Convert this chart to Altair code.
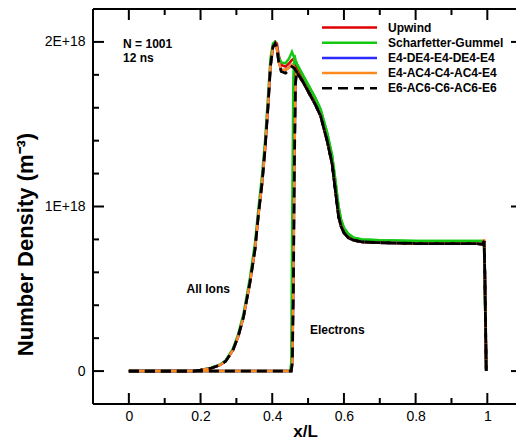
import altair as alt
import pandas as pd

FONT = "Liberation Sans"
W, H = 423, 395

# Discretisation schemes, drawn in this order (last on top)
schemes = ["Upwind", "Scharfetter-Gummel", "E4-DE4-E4-DE4-E4",
           "E4-AC4-C4-AC4-E4", "E6-AC6-C6-AC6-E6"]
colors = ["#e00000", "#14c814", "#2b2bff", "#ff8a1e", "#000000"]
dashes = [None, None, None, None, [10, 6]]
widths = [2.5, 2.5, 2.5, 2.5, 2.8]

# Number densities in units of 1E+18 m^-3, at t = 12 ns
ions_x = [0.0, 0.10, 0.18, 0.20, 0.23, 0.255, 0.27, 0.29, 0.305, 0.32, 0.338,
          0.352, 0.361, 0.372, 0.38, 0.388, 0.395, 0.402, 0.408, 0.413, 0.418,
          0.425, 0.437, 0.447, 0.455, 0.462, 0.47, 0.485, 0.50, 0.52, 0.535,
          0.553, 0.567, 0.576, 0.585, 0.592, 0.60, 0.612, 0.627, 0.65, 0.70,
          0.80, 0.90, 0.97, 0.987, 0.991, 0.993, 0.997]
ions_upwind = [0, 0, 0, 0.006, 0.018, 0.037, 0.06, 0.125, 0.21, 0.33, 0.54,
               0.74, 0.94, 1.15, 1.35, 1.60, 1.85, 1.97, 2.00, 1.99, 1.92,
               1.86, 1.85, 1.87, 1.89, 1.90, 1.84, 1.77, 1.71, 1.63, 1.56,
               1.41, 1.27, 1.11, 0.95, 0.89, 0.85, 0.815, 0.80, 0.79, 0.785,
               0.78, 0.78, 0.78, 0.775, 0.795, 0.6, 0.0]
ions_sg = [0, 0, 0, 0.007, 0.02, 0.04, 0.065, 0.135, 0.225, 0.35, 0.57,
           0.78, 0.98, 1.20, 1.40, 1.66, 1.90, 1.99, 2.00, 1.96, 1.91,
           1.875, 1.87, 1.90, 1.94, 1.90, 1.86, 1.80, 1.74, 1.66, 1.59,
           1.45, 1.31, 1.16, 1.00, 0.92, 0.87, 0.835, 0.81, 0.80, 0.795,
           0.79, 0.79, 0.79, 0.79, 0.76, 0.5, 0.0]
ions_e4de4 = [0, 0, 0, 0.006, 0.018, 0.037, 0.06, 0.125, 0.21, 0.33, 0.54,
              0.74, 0.94, 1.15, 1.35, 1.60, 1.85, 1.97, 1.99, 1.96, 1.88,
              1.83, 1.83, 1.845, 1.86, 1.845, 1.81, 1.76, 1.70, 1.62, 1.55,
              1.40, 1.26, 1.10, 0.94, 0.88, 0.84, 0.81, 0.795, 0.785, 0.78,
              0.775, 0.775, 0.775, 0.77, 0.79, 0.6, 0.0]
ions_e4ac4 = [0, 0, 0, 0.006, 0.018, 0.037, 0.06, 0.125, 0.21, 0.33, 0.54,
              0.74, 0.94, 1.15, 1.35, 1.60, 1.85, 1.97, 1.99, 1.96, 1.88,
              1.83, 1.83, 1.845, 1.86, 1.845, 1.81, 1.76, 1.70, 1.62, 1.55,
              1.40, 1.26, 1.10, 0.94, 0.88, 0.84, 0.81, 0.795, 0.785, 0.78,
              0.775, 0.775, 0.775, 0.77, 0.80, 0.6, 0.0]
ions_e6 = [0, 0, 0, 0.006, 0.018, 0.037, 0.06, 0.125, 0.21, 0.33, 0.54,
           0.74, 0.94, 1.15, 1.35, 1.60, 1.85, 1.97, 1.99, 1.96, 1.88,
           1.82, 1.81, 1.83, 1.85, 1.84, 1.81, 1.76, 1.70, 1.62, 1.55,
           1.40, 1.26, 1.10, 0.94, 0.88, 0.84, 0.81, 0.795, 0.785, 0.78,
           0.775, 0.775, 0.775, 0.77, 0.79, 0.6, 0.0]

electrons_x = [0.0, 0.10, 0.20, 0.30, 0.40, 0.45, 0.453, 0.456, 0.459, 0.462,
               0.465, 0.468, 0.47, 0.485, 0.50, 0.52, 0.535, 0.553, 0.567,
               0.576, 0.585, 0.592, 0.60, 0.612, 0.627, 0.65, 0.70, 0.80,
               0.90, 0.97, 0.987, 0.991, 0.993, 0.997]
electrons_upwind = [0, 0, 0, 0, 0, 0, 0, 0.1, 0.8, 1.6, 1.88, 1.87, 1.84,
                    1.77, 1.71, 1.63, 1.56, 1.41, 1.27, 1.11, 0.95, 0.89,
                    0.85, 0.815, 0.80, 0.79, 0.785, 0.78, 0.78, 0.78, 0.775,
                    0.795, 0.6, 0.0]
electrons_sg = [0, 0, 0, 0, 0, 0, 0.05, 1.0, 1.8, 1.92, 1.89, 1.87, 1.86,
                1.80, 1.74, 1.66, 1.59, 1.45, 1.31, 1.16, 1.00, 0.92,
                0.87, 0.835, 0.81, 0.80, 0.795, 0.79, 0.79, 0.79, 0.79,
                0.76, 0.5, 0.0]
electrons_e4de4 = [0, 0, 0, 0, 0, 0, 0, 0.05, 0.5, 1.3, 1.75, 1.82, 1.81,
                   1.76, 1.70, 1.62, 1.55, 1.40, 1.26, 1.10, 0.94, 0.88,
                   0.84, 0.81, 0.795, 0.785, 0.78, 0.775, 0.775, 0.775, 0.77,
                   0.79, 0.6, 0.0]
electrons_e4ac4 = [0, 0, 0, 0, 0, 0, 0, 0.05, 0.5, 1.3, 1.75, 1.82, 1.81,
                   1.76, 1.70, 1.62, 1.55, 1.40, 1.26, 1.10, 0.94, 0.88,
                   0.84, 0.81, 0.795, 0.785, 0.78, 0.775, 0.775, 0.775, 0.77,
                   0.80, 0.6, 0.0]
electrons_e6 = [0, 0, 0, 0, 0, 0, 0, 0.05, 0.5, 1.3, 1.75, 1.82, 1.81,
                1.76, 1.70, 1.62, 1.55, 1.40, 1.26, 1.10, 0.94, 0.88,
                0.84, 0.81, 0.795, 0.785, 0.78, 0.775, 0.775, 0.775, 0.77,
                0.79, 0.6, 0.0]

ions_series = [ions_upwind, ions_sg, ions_e4de4, ions_e4ac4, ions_e6]
electron_series = [electrons_upwind, electrons_sg, electrons_e4de4,
                   electrons_e4ac4, electrons_e6]

# Axis ticks
x_major = [0, 0.2, 0.4, 0.6, 0.8, 1.0]
x_minor = [0.1, 0.3, 0.5, 0.7, 0.9]
y_major = [0, 1, 2]
y_minor = [0.2, 0.4, 0.6, 0.8, 1.2, 1.4, 1.6, 1.8]

# In-plot notes
note_text = ["N = 1001", "12 ns", "All Ions", "Electrons"]
note_x = [-0.016, -0.016, 0.161, 0.505]
note_y = [1.965, 1.878, 0.474, 0.225]

rows = []
for name, iv, ev in zip(schemes, ions_series, electron_series):
    for xv, yv in zip(ions_x, iv):
        rows.append({"scheme": name, "species": "ions", "x": xv, "y": yv})
    for xv, yv in zip(electrons_x, ev):
        rows.append({"scheme": name, "species": "electrons", "x": xv, "y": yv})
df = pd.DataFrame(rows)

xs = alt.Scale(domain=[-0.1, 1.08], nice=False, zero=False)
ys = alt.Scale(domain=[-0.2, 2.2], nice=False, zero=False)
xaxis = alt.Axis(values=x_major, format="~g", ticks=False, domain=False,
                 grid=False, labelPadding=5, title="x/L",
                 titleFontSize=17, titleX=212, titleY=32,
                 titleBaseline="alphabetic")
yaxis = alt.Axis(values=y_major,
                 labelExpr="datum.value == 0 ? '0' : datum.value + 'E+18'",
                 ticks=False, domain=False, grid=False, labelPadding=8,
                 title="Number Density (m\u207b\u00b3)", titleFontSize=22,
                 titleX=-61, titleY=235, titleBaseline="alphabetic")
X = alt.X("x:Q", scale=xs, axis=xaxis)
Y = alt.Y("y:Q", scale=ys, axis=yaxis)

layers = []
for name, col, dash, w in zip(schemes, colors, dashes, widths):
    style = dict(color=col, strokeWidth=w, clip=True)
    if dash:
        style["strokeDash"] = dash
    layers.append(
        alt.Chart(df)
        .transform_filter(alt.datum.scheme == name)
        .mark_line(**style)
        .encode(x=X, y=Y, detail="species:N")
    )

# Frame (left, top, bottom) and inward ticks on all sides
one = alt.Data(values=[{}])
frame_style = dict(color="black", strokeWidth=2)
layers += [
    alt.Chart(one).mark_rule(**frame_style).encode(
        x=alt.value(0), y=alt.value(0), y2=alt.value(H)),
    alt.Chart(one).mark_rule(**frame_style).encode(
        x=alt.value(0), x2=alt.value(W), y=alt.value(0)),
    alt.Chart(one).mark_rule(**frame_style).encode(
        x=alt.value(0), x2=alt.value(W), y=alt.value(H)),
]
xmaj = pd.DataFrame({"x": x_major})
xmin = pd.DataFrame({"x": x_minor})
ymaj = pd.DataFrame({"y": y_major})
ymin = pd.DataFrame({"y": y_minor})
tick_style = dict(color="black", strokeWidth=2)
layers += [
    alt.Chart(xmaj).mark_rule(**tick_style).encode(x=X, y=alt.value(H), y2=alt.value(H - 11)),
    alt.Chart(xmin).mark_rule(**tick_style).encode(x=X, y=alt.value(H), y2=alt.value(H - 6)),
    alt.Chart(xmaj).mark_rule(**tick_style).encode(x=X, y=alt.value(0), y2=alt.value(11)),
    alt.Chart(xmin).mark_rule(**tick_style).encode(x=X, y=alt.value(0), y2=alt.value(6)),
    alt.Chart(ymaj).mark_rule(**tick_style).encode(y=Y, x=alt.value(0), x2=alt.value(11)),
    alt.Chart(ymin).mark_rule(**tick_style).encode(y=Y, x=alt.value(0), x2=alt.value(6)),
    alt.Chart(ymaj).mark_rule(**tick_style).encode(y=Y, x=alt.value(W - 5), x2=alt.value(W)),
]

notes = pd.DataFrame({"x": note_x, "y": note_y, "text": note_text})
layers.append(
    alt.Chart(notes)
    .mark_text(align="left", baseline="alphabetic", font=FONT,
               fontSize=12, fontWeight="bold", color="black")
    .encode(x=X, y=Y, text="text:N")
)

main = alt.layer(*layers)

# Legend built from rules and labels, one row per scheme
leg = pd.DataFrame({"label": schemes, "row": list(range(len(schemes)))})
LY = alt.Y("row:Q", scale=alt.Scale(domain=[0, 4], range=[18.5, 79.3]), axis=None)
leg_color = alt.Color("label:N", scale=alt.Scale(domain=schemes, range=colors), legend=None)
leg_dash = alt.StrokeDash("label:N",
                          scale=alt.Scale(domain=schemes,
                                          range=[d if d else [1, 0] for d in dashes]),
                          legend=None)
legend_lines = alt.Chart(leg).mark_rule(strokeWidth=2.5).encode(
    x=alt.value(229), x2=alt.value(284), y=LY, color=leg_color, strokeDash=leg_dash)
legend_text = alt.Chart(leg).mark_text(
    align="left", baseline="middle", font=FONT, fontSize=12,
    fontWeight="bold", color="black").encode(x=alt.value(295), y=LY, text="label:N")

chart = (
    alt.layer(main, legend_lines, legend_text)
    .resolve_scale(y="independent")
    .properties(width=W, height=H,
                padding={"left": 93, "top": 9, "right": 0, "bottom": 36},
                autosize=alt.AutoSizeParams(type="none"))
    .configure_view(stroke=None)
    .configure_axis(labelFont=FONT, labelFontSize=14, labelColor="black",
                    titleFont=FONT, titleFontWeight="bold",
                    titleColor="black")
)

chart.save("out.html", embed_options={"renderer": "svg", "actions": False})
